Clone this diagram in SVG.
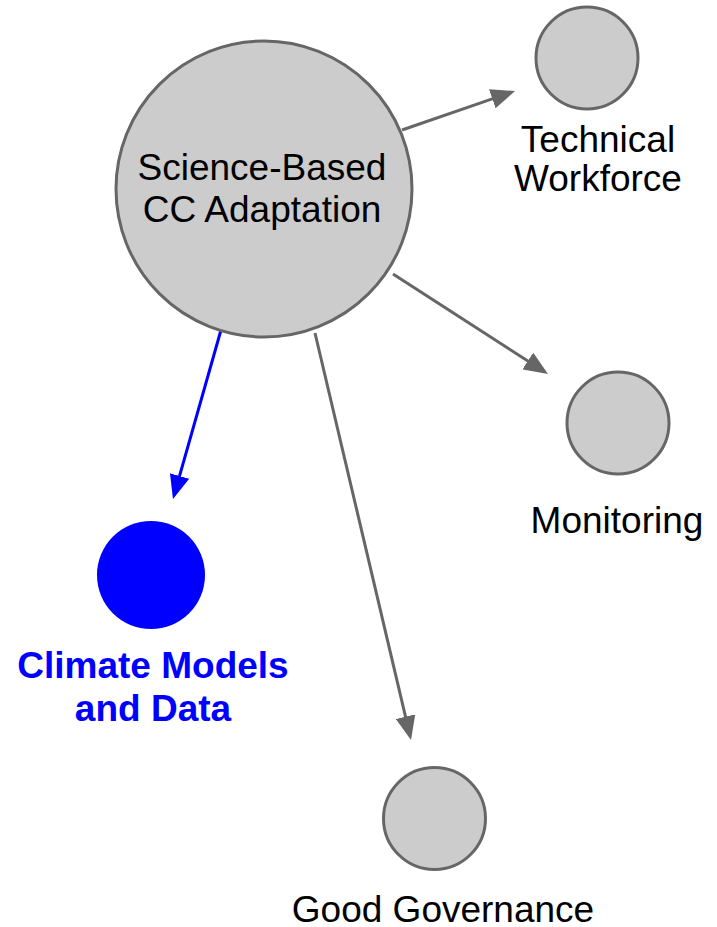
<svg xmlns="http://www.w3.org/2000/svg" width="717" height="927" viewBox="0 0 717 927">
<style>
.node{fill:#cccccc;stroke:#666666;stroke-width:3}
.lbl{font-family:"Liberation Sans",Arial,sans-serif;font-size:37px;fill:#000000;text-anchor:middle}
.sel{font-family:"Liberation Sans",Arial,sans-serif;font-size:37px;font-weight:bold;fill:#0000ff;text-anchor:middle}
.edge{stroke:#666666;stroke-width:3;fill:none}
.edge-sel{stroke:#0000ff;stroke-width:3;fill:none}
</style>
<defs>
<marker id="ah" markerUnits="userSpaceOnUse" markerWidth="24" markerHeight="20" refX="20" refY="10" orient="auto" viewBox="0 0 24 20">
<path d="M0,0 L24,10 L0,20 z" fill="#666666"/>
</marker>
<marker id="ahb" markerUnits="userSpaceOnUse" markerWidth="24" markerHeight="20" refX="20" refY="10" orient="auto" viewBox="0 0 24 20">
<path d="M0,0 L24,10 L0,20 z" fill="#0000ff"/>
</marker>
</defs>
<rect width="717" height="927" fill="#ffffff"/>
<g id="connectors">
<line class="edge" x1="402" y1="130" x2="511.2" y2="92.3" marker-end="url(#ah)"/>
<line class="edge" x1="393" y1="274" x2="544.6" y2="371.8" marker-end="url(#ah)"/>
<line class="edge" x1="315" y1="333" x2="410.1" y2="736.1" marker-end="url(#ah)"/>
<line class="edge-sel" x1="221" y1="330" x2="174.1" y2="495.2" marker-end="url(#ahb)"/>
</g>
<g id="node-main">
<circle class="node" cx="264" cy="189" r="148"/>
<text class="lbl" x="262" y="180">Science-Based</text>
<text class="lbl" x="262" y="222">CC Adaptation</text>
</g>
<g id="node-technical">
<circle class="node" cx="587" cy="58" r="51"/>
<text class="lbl" x="598" y="152">Technical</text>
<text class="lbl" x="598" y="191">Workforce</text>
</g>
<g id="node-monitoring">
<circle class="node" cx="618" cy="423" r="51"/>
<text class="lbl" x="617" y="533">Monitoring</text>
</g>
<g id="node-climate">
<circle cx="151" cy="575" r="54" fill="#0000ff"/>
<text class="sel" x="153" y="678">Climate Models</text>
<text class="sel" x="153" y="721">and Data</text>
</g>
<g id="node-governance">
<circle class="node" cx="434.5" cy="818.5" r="51"/>
<text class="lbl" x="443" y="922">Good Governance</text>
</g>
</svg>
